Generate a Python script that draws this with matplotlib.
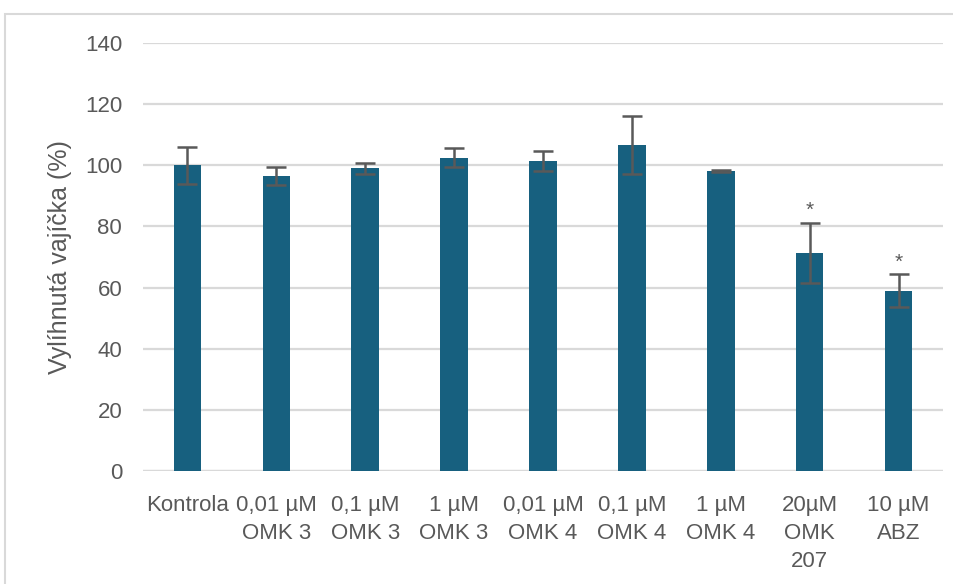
import matplotlib
matplotlib.use("Agg")
from matplotlib import pyplot
from matplotlib.patches import Rectangle

categories = ["Kontrola", "0,01 µM\nOMK 3", "0,1 µM\nOMK 3", "1 µM\nOMK 3",
              "0,01 µM\nOMK 4", "0,1 µM\nOMK 4", "1 µM\nOMK 4",
              "20µM\nOMK\n207", "10 µM\nABZ"]
values = [100.0, 96.5, 99.0, 102.5, 101.5, 106.5, 98.2, 71.3, 59.0]
errors = [6.0, 3.0, 1.8, 3.0, 3.3, 9.5, 0.4, 9.8, 5.3]
significant = [False, False, False, False, False, False, False, True, True]

bar_colour = '#17607f'
err_colour = '#595959'
text_colour = '#595959'
grid_colour = '#d9d9d9'

pyplot.rcParams['font.family'] = ['Liberation Sans', 'DejaVu Sans']

fig = pyplot.figure(figsize=(9.54, 5.84), dpi=100)
ax = fig.add_axes([143 / 954, 113 / 584, 800 / 954, 428 / 584])

# Chart border
fig.patches.append(Rectangle((5 / 954, -0.1), 1.2, (584 - 14) / 584 + 0.1,
                             transform=fig.transFigure, fill=False,
                             edgecolor='#d9d9d9', linewidth=1.5))

x = list(range(len(categories)))
ax.bar(x, values, width=0.31, color=bar_colour, zorder=3)
ax.errorbar(x, values, yerr=errors, fmt='none', ecolor=err_colour,
            elinewidth=1.8, capsize=7.5, capthick=1.8, zorder=4)

# Significance markers
for xi, v, e, s in zip(x, values, errors, significant):
    if s:
        ax.text(xi, v + e + 1.0, '*', ha='center', va='bottom',
                fontsize=15, color=err_colour)

ax.set_xlim(-0.5, len(categories) - 0.5)
ax.set_ylim(0, 140)
ax.set_yticks(range(0, 141, 20))
ax.yaxis.grid(True, color=grid_colour, linewidth=1.6, zorder=0)
ax.set_axisbelow(True)
for side in ['top', 'right', 'left', 'bottom']:
    ax.spines[side].set_visible(False)
ax.axhline(0, color=grid_colour, linewidth=1.6, zorder=1)

ax.set_xticks(x)
ax.set_xticklabels(categories, linespacing=1.45)
ax.tick_params(axis='both', length=0, labelsize=16, colors=text_colour)
ax.tick_params(axis='y', pad=15)
ax.tick_params(axis='x', pad=17)
ax.set_ylabel("Vylíhnutá vajíčka (%)", fontsize=18, color=text_colour, labelpad=9)

pyplot.savefig('out.png', dpi=100)
